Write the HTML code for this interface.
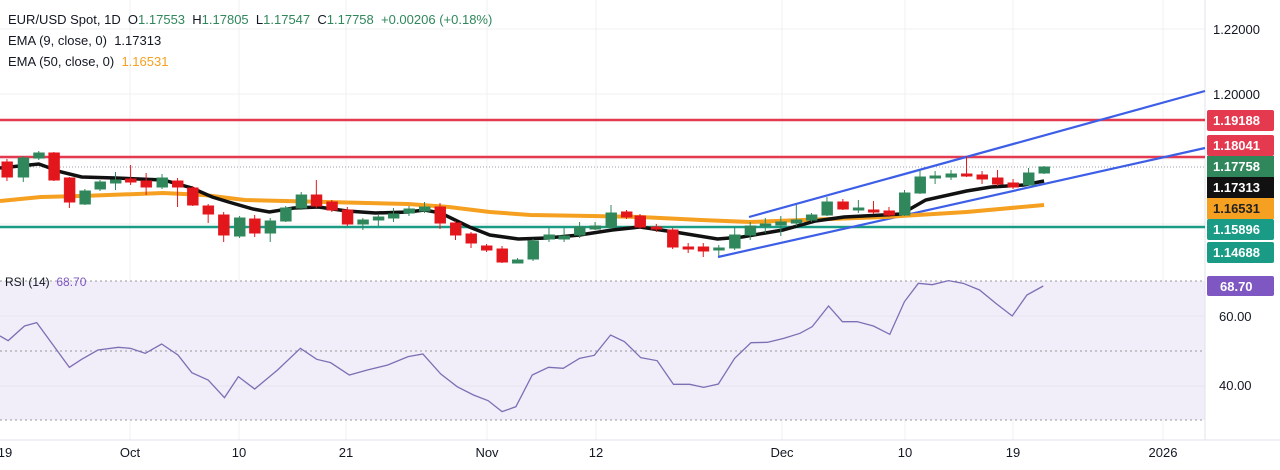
<!DOCTYPE html>
<html><head><meta charset="utf-8"><style>
body{margin:0;background:#fff;font-family:"Liberation Sans",sans-serif}
svg{display:block}
text{font-family:"Liberation Sans",sans-serif;white-space:pre}
</style></head><body>
<svg width="1280" height="470" viewBox="0 0 1280 470" xmlns="http://www.w3.org/2000/svg" xml:space="preserve">
<rect width="1280" height="470" fill="#fff"/>
<g stroke="#f0f0f3" stroke-width="1">
<line x1="130" y1="0" x2="130" y2="440"/><line x1="239" y1="0" x2="239" y2="440"/><line x1="346" y1="0" x2="346" y2="440"/><line x1="487" y1="0" x2="487" y2="440"/><line x1="596" y1="0" x2="596" y2="440"/><line x1="782" y1="0" x2="782" y2="440"/><line x1="905" y1="0" x2="905" y2="440"/><line x1="1013" y1="0" x2="1013" y2="440"/><line x1="1163" y1="0" x2="1163" y2="440"/>
<line x1="0" y1="29" x2="1205" y2="29"/><line x1="0" y1="94" x2="1205" y2="94"/><line x1="0" y1="159" x2="1205" y2="159"/><line x1="0" y1="224" x2="1205" y2="224"/>
</g>
<rect x="0" y="281" width="1205" height="139" fill="#f1edf9"/>
<g stroke="#999" stroke-dasharray="2,3" stroke-width="1">
<line x1="0" y1="281" x2="1205" y2="281"/><line x1="0" y1="351" x2="1205" y2="351"/><line x1="0" y1="420" x2="1205" y2="420"/>
</g>
<line x1="0" y1="316" x2="1205" y2="316" stroke="#e6e2ef"/><line x1="0" y1="386" x2="1205" y2="386" stroke="#e6e2ef"/>
<line x1="0" y1="440" x2="1280" y2="440" stroke="#e0e3eb"/>
<line x1="1205" y1="0" x2="1205" y2="440" stroke="#e0e3eb"/>
<line x1="0" y1="120" x2="1205" y2="120" stroke="#e5394f" stroke-width="2.5"/>
<line x1="0" y1="157" x2="1205" y2="157" stroke="#e5394f" stroke-width="2.5"/>
<line x1="0" y1="227" x2="1205" y2="227" stroke="#1a9b86" stroke-width="2.5"/>
<line x1="0" y1="167" x2="1205" y2="167" stroke="#9aa0a8" stroke-dasharray="1,2"/>
<line x1="749" y1="217" x2="1205" y2="91" stroke="#3d5ee6" stroke-width="2.2"/>
<line x1="718" y1="257" x2="1205" y2="148" stroke="#3d5ee6" stroke-width="2.2"/>
<g transform="scale(0.40816,1)">
<polyline fill="none" stroke="#f5a020" stroke-width="4" vector-effect="non-scaling-stroke" points="0,201 100,197 200,196 400,193 500,195 600,200 800,202 1000,204 1100,207 1200,212 1300,215 1450,216 1568,217 1718,220 1838,222 1968,220 2168,217 2368,212 2558,205"/>
<polyline fill="none" stroke="#111" stroke-width="3.5" vector-effect="non-scaling-stroke" points="0,168 95,164 150,172 200,177 283,178 400,180 470,188 520,197 560,202 620,209 660,212 720,208 780,207 850,211 920,213 1000,212 1040,210 1080,213 1150,227 1200,235 1270,239 1340,238 1420,235 1500,230 1568,227 1668,233 1758,239 1818,237 1918,230 1998,221 2068,217 2208,214 2268,200 2368,191 2428,187 2508,185 2558,181"/>
</g>
<g transform="scale(0.40816,1)" stroke-width="1" >
<g fill="#e3161c" stroke="#e3161c">
<line x1="17" y1="159" x2="17" y2="181" vector-effect="non-scaling-stroke"/><rect x="4" y="162" width="27" height="15"/>
<line x1="132" y1="152" x2="132" y2="181" vector-effect="non-scaling-stroke"/><rect x="119" y="153" width="27" height="27"/>
<line x1="170" y1="177" x2="170" y2="208" vector-effect="non-scaling-stroke"/><rect x="157" y="178" width="27" height="24"/>
<line x1="320" y1="165" x2="320" y2="185" vector-effect="non-scaling-stroke"/><rect x="307" y="179" width="27" height="3"/>
<line x1="358" y1="173" x2="358" y2="195" vector-effect="non-scaling-stroke"/><rect x="345" y="181" width="27" height="6"/>
<line x1="435" y1="178" x2="435" y2="207" vector-effect="non-scaling-stroke"/><rect x="422" y="181" width="27" height="6"/>
<line x1="472" y1="186" x2="472" y2="206" vector-effect="non-scaling-stroke"/><rect x="459" y="188" width="27" height="17"/>
<line x1="510" y1="204" x2="510" y2="223" vector-effect="non-scaling-stroke"/><rect x="497" y="206" width="27" height="8"/>
<line x1="548" y1="212" x2="548" y2="242" vector-effect="non-scaling-stroke"/><rect x="535" y="215" width="27" height="20"/>
<line x1="624" y1="215" x2="624" y2="237" vector-effect="non-scaling-stroke"/><rect x="611" y="219" width="27" height="14"/>
<line x1="775" y1="180" x2="775" y2="208" vector-effect="non-scaling-stroke"/><rect x="762" y="195" width="27" height="11"/>
<line x1="813" y1="200" x2="813" y2="212" vector-effect="non-scaling-stroke"/><rect x="800" y="202" width="27" height="8"/>
<line x1="851" y1="207" x2="851" y2="226" vector-effect="non-scaling-stroke"/><rect x="838" y="210" width="27" height="14"/>
<line x1="1078" y1="203" x2="1078" y2="229" vector-effect="non-scaling-stroke"/><rect x="1065" y="207" width="27" height="16"/>
<line x1="1116" y1="221" x2="1116" y2="240" vector-effect="non-scaling-stroke"/><rect x="1103" y="223" width="27" height="12"/>
<line x1="1154" y1="232" x2="1154" y2="248" vector-effect="non-scaling-stroke"/><rect x="1141" y="234" width="27" height="9"/>
<line x1="1192" y1="244" x2="1192" y2="252" vector-effect="non-scaling-stroke"/><rect x="1179" y="246" width="27" height="4"/>
<line x1="1230" y1="246" x2="1230" y2="263" vector-effect="non-scaling-stroke"/><rect x="1217" y="249" width="27" height="13"/>
<line x1="1535" y1="210" x2="1535" y2="219" vector-effect="non-scaling-stroke"/><rect x="1522" y="212" width="27" height="5"/>
</g>
<g fill="#30875c" stroke="#30875c">
<line x1="57" y1="156" x2="57" y2="182" vector-effect="non-scaling-stroke"/><rect x="44" y="158" width="27" height="19"/>
<line x1="95" y1="151" x2="95" y2="160" vector-effect="non-scaling-stroke"/><rect x="82" y="153" width="27" height="5"/>
<line x1="208" y1="189" x2="208" y2="205" vector-effect="non-scaling-stroke"/><rect x="195" y="191" width="27" height="13"/>
<line x1="245" y1="180" x2="245" y2="191" vector-effect="non-scaling-stroke"/><rect x="232" y="182" width="27" height="7"/>
<line x1="283" y1="172" x2="283" y2="190" vector-effect="non-scaling-stroke"/><rect x="270" y="180" width="27" height="3"/>
<line x1="397" y1="174" x2="397" y2="189" vector-effect="non-scaling-stroke"/><rect x="384" y="178" width="27" height="9"/>
<line x1="587" y1="216" x2="587" y2="238" vector-effect="non-scaling-stroke"/><rect x="574" y="218" width="27" height="18"/>
<line x1="662" y1="218" x2="662" y2="242" vector-effect="non-scaling-stroke"/><rect x="649" y="221" width="27" height="12"/>
<line x1="700" y1="206" x2="700" y2="222" vector-effect="non-scaling-stroke"/><rect x="687" y="208" width="27" height="13"/>
<line x1="738" y1="192" x2="738" y2="210" vector-effect="non-scaling-stroke"/><rect x="725" y="195" width="27" height="13"/>
<line x1="889" y1="218" x2="889" y2="230" vector-effect="non-scaling-stroke"/><rect x="876" y="220" width="27" height="4"/>
<line x1="927" y1="215" x2="927" y2="226" vector-effect="non-scaling-stroke"/><rect x="914" y="217" width="27" height="3"/>
<line x1="964" y1="208" x2="964" y2="222" vector-effect="non-scaling-stroke"/><rect x="951" y="214" width="27" height="4"/>
<line x1="1002" y1="206" x2="1002" y2="216" vector-effect="non-scaling-stroke"/><rect x="989" y="209" width="27" height="4"/>
<line x1="1040" y1="202" x2="1040" y2="213" vector-effect="non-scaling-stroke"/><rect x="1027" y="207" width="27" height="4"/>
<line x1="1268" y1="258" x2="1268" y2="263" vector-effect="non-scaling-stroke"/><rect x="1255" y="260" width="27" height="3"/>
<line x1="1306" y1="239" x2="1306" y2="261" vector-effect="non-scaling-stroke"/><rect x="1293" y="241" width="27" height="18"/>
<line x1="1345" y1="228" x2="1345" y2="242" vector-effect="non-scaling-stroke"/><rect x="1332" y="235" width="27" height="4"/>
<line x1="1382" y1="228" x2="1382" y2="242" vector-effect="non-scaling-stroke"/><rect x="1369" y="236" width="27" height="3"/>
<line x1="1420" y1="222" x2="1420" y2="238" vector-effect="non-scaling-stroke"/><rect x="1407" y="227" width="27" height="8"/>
<line x1="1458" y1="222" x2="1458" y2="230" vector-effect="non-scaling-stroke"/><rect x="1445" y="226" width="27" height="3"/>
<line x1="1497" y1="205" x2="1497" y2="229" vector-effect="non-scaling-stroke"/><rect x="1484" y="213" width="27" height="14"/>
</g>
</g>
<g transform="translate(640,0) scale(0.40816,1)">
<g fill="#e3161c" stroke="#e3161c">
<line x1="0" y1="214" x2="0" y2="229" vector-effect="non-scaling-stroke"/><rect x="-13" y="216" width="27" height="11"/>
<line x1="40" y1="224" x2="40" y2="232" vector-effect="non-scaling-stroke"/><rect x="27" y="227" width="27" height="2"/>
<line x1="80" y1="228" x2="80" y2="249" vector-effect="non-scaling-stroke"/><rect x="67" y="230" width="27" height="17"/>
<line x1="118" y1="243" x2="118" y2="253" vector-effect="non-scaling-stroke"/><rect x="105" y="247" width="27" height="2"/>
<line x1="155" y1="243" x2="155" y2="257" vector-effect="non-scaling-stroke"/><rect x="142" y="247" width="27" height="4"/>
<line x1="497" y1="199" x2="497" y2="210" vector-effect="non-scaling-stroke"/><rect x="484" y="202" width="27" height="7"/>
<line x1="572" y1="201" x2="572" y2="214" vector-effect="non-scaling-stroke"/><rect x="559" y="210" width="27" height="2"/>
<line x1="610" y1="207" x2="610" y2="217" vector-effect="non-scaling-stroke"/><rect x="597" y="211" width="27" height="4"/>
<line x1="800" y1="156" x2="800" y2="177" vector-effect="non-scaling-stroke"/><rect x="787" y="174" width="27" height="2"/>
<line x1="838" y1="171" x2="838" y2="184" vector-effect="non-scaling-stroke"/><rect x="825" y="175" width="27" height="4"/>
<line x1="876" y1="170" x2="876" y2="186" vector-effect="non-scaling-stroke"/><rect x="863" y="178" width="27" height="6"/>
<line x1="914" y1="179" x2="914" y2="189" vector-effect="non-scaling-stroke"/><rect x="901" y="183" width="27" height="4"/>
</g>
<g fill="#30875c" stroke="#30875c">
<line x1="193" y1="245" x2="193" y2="256" vector-effect="non-scaling-stroke"/><rect x="180" y="248" width="27" height="2"/>
<line x1="232" y1="228" x2="232" y2="250" vector-effect="non-scaling-stroke"/><rect x="219" y="235" width="27" height="13"/>
<line x1="270" y1="222" x2="270" y2="240" vector-effect="non-scaling-stroke"/><rect x="257" y="226" width="27" height="9"/>
<line x1="307" y1="218" x2="307" y2="233" vector-effect="non-scaling-stroke"/><rect x="294" y="224" width="27" height="2"/>
<line x1="345" y1="216" x2="345" y2="236" vector-effect="non-scaling-stroke"/><rect x="332" y="222" width="27" height="3"/>
<line x1="383" y1="205" x2="383" y2="226" vector-effect="non-scaling-stroke"/><rect x="370" y="220" width="27" height="3"/>
<line x1="420" y1="213" x2="420" y2="222" vector-effect="non-scaling-stroke"/><rect x="407" y="215" width="27" height="5"/>
<line x1="458" y1="197" x2="458" y2="216" vector-effect="non-scaling-stroke"/><rect x="445" y="202" width="27" height="13"/>
<line x1="535" y1="200" x2="535" y2="213" vector-effect="non-scaling-stroke"/><rect x="522" y="208" width="27" height="2"/>
<line x1="648" y1="190" x2="648" y2="216" vector-effect="non-scaling-stroke"/><rect x="635" y="193" width="27" height="22"/>
<line x1="686" y1="170" x2="686" y2="194" vector-effect="non-scaling-stroke"/><rect x="673" y="177" width="27" height="16"/>
<line x1="723" y1="171" x2="723" y2="184" vector-effect="non-scaling-stroke"/><rect x="710" y="176" width="27" height="2"/>
<line x1="762" y1="170" x2="762" y2="180" vector-effect="non-scaling-stroke"/><rect x="749" y="174" width="27" height="3"/>
<line x1="952" y1="168" x2="952" y2="186" vector-effect="non-scaling-stroke"/><rect x="939" y="173" width="27" height="12"/>
<line x1="990" y1="166" x2="990" y2="174" vector-effect="non-scaling-stroke"/><rect x="977" y="167" width="27" height="6"/>
</g>
</g>
<g transform="translate(0,270) scale(0.8163,0.33333)">
<polyline fill="none" stroke="#7e6fb4" stroke-width="1.3" vector-effect="non-scaling-stroke" points="0,198 10,212 30,168 45,158 65,225 85,292 100,268 120,240 145,232 160,235 178,250 198,222 218,255 235,308 255,330 275,383 292,320 312,357 340,300 368,235 388,268 405,278 428,315 450,300 475,285 500,260 518,252 540,312 560,350 580,375 598,392 615,425 632,410 652,315 672,292 690,295 710,265 728,256 748,195 765,215 785,263 805,272 825,343 845,343 862,352 880,342 900,265 920,218 940,217 960,205 980,190 995,170 1015,108 1032,155 1050,155 1070,168 1090,193 1108,95 1125,40 1142,44 1162,32 1180,40 1200,60 1220,100 1240,138 1258,75 1278,48"/>
</g>
<g font-size="13" fill="#131722">
<text x="8" y="24">EUR/USD Spot, 1D  O<tspan fill="#30875c">1.17553</tspan>  H<tspan fill="#30875c">1.17805</tspan>  L<tspan fill="#30875c">1.17547</tspan>  C<tspan fill="#30875c">1.17758</tspan>  <tspan fill="#30875c">+0.00206 (+0.18%)</tspan></text>
<text x="8" y="45">EMA (9, close, 0)  1.17313</text>
<text x="8" y="66">EMA (50, close, 0)  <tspan fill="#f5a020">1.16531</tspan></text>
<text x="5" y="286" font-size="12">RSI (14)  <tspan fill="#7e57c2">68.70</tspan></text>
</g>
<g font-size="13" fill="#131722">
<text x="1213" y="34">1.22000</text>
<text x="1213" y="99">1.20000</text>
<text x="1219" y="321">60.00</text>
<text x="1219" y="390">40.00</text>
</g>
<g font-size="13" fill="#fff" font-weight="bold">
<rect x="1207" y="110" width="67" height="21" rx="2" fill="#e5394f"/><text x="1213" y="125">1.19188</text>
<rect x="1207" y="135" width="67" height="21" rx="2" fill="#e5394f"/><text x="1213" y="150">1.18041</text>
<rect x="1207" y="156" width="67" height="21" fill="#30875c"/><text x="1213" y="171">1.17758</text>
<rect x="1207" y="177" width="67" height="21" fill="#111"/><text x="1213" y="192">1.17313</text>
<rect x="1207" y="198" width="67" height="21" fill="#f5a020"/><text x="1213" y="213" fill="#222">1.16531</text>
<rect x="1207" y="219" width="67" height="21" rx="2" fill="#1a9b86"/><text x="1213" y="234">1.15896</text>
<rect x="1207" y="242" width="67" height="21" rx="2" fill="#1a9b86"/><text x="1213" y="257">1.14688</text>
<rect x="1207" y="276" width="67" height="20" rx="2" fill="#7e57c2"/><text x="1220" y="291">68.70</text>
</g>
<g font-size="13" fill="#131722" text-anchor="middle">
<text x="5" y="457">19</text><text x="130" y="457">Oct</text><text x="239" y="457">10</text><text x="346" y="457">21</text><text x="487" y="457">Nov</text><text x="596" y="457">12</text><text x="782" y="457">Dec</text><text x="905" y="457">10</text><text x="1013" y="457">19</text><text x="1163" y="457">2026</text>
</g>
</svg>
</body></html>
